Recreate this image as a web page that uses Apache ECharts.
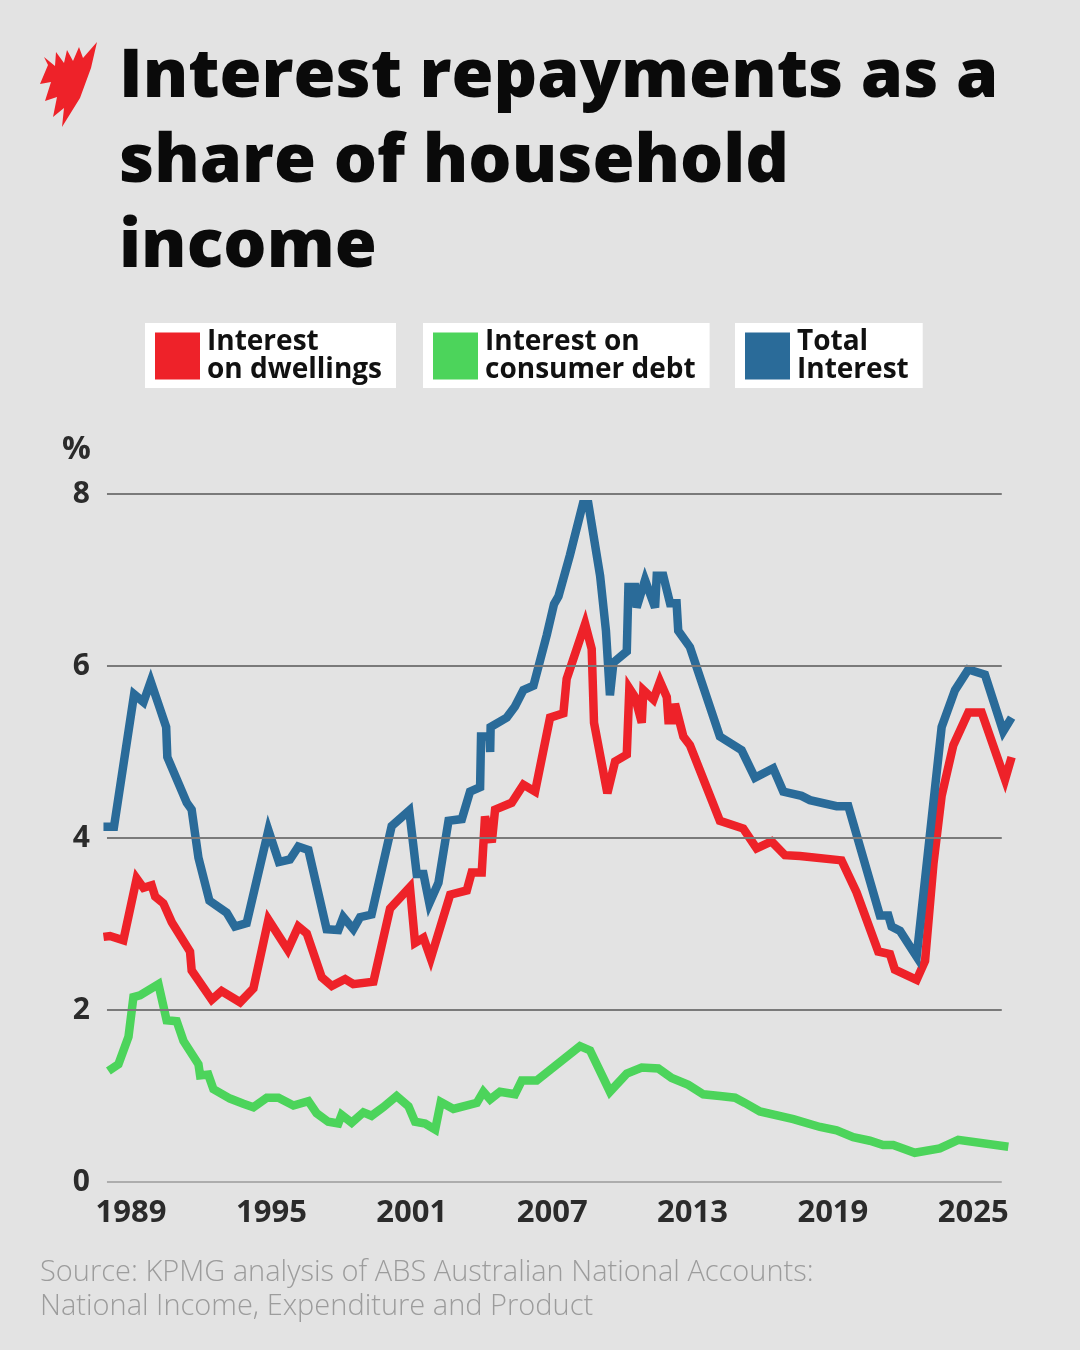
<!DOCTYPE html>
<html>
<head>
<meta charset="utf-8">
<script src="https://cdn.jsdelivr.net/npm/echarts@6/dist/echarts.min.js"></script>
<style>
	html, body { margin: 0; padding: 0; background: #e3e3e3; }
	#chart { width: 1080px; height: 1350px; }
</style>
</head>
<body>
<div id="chart"></div>
<script>
// [year, % of household income]
let dwellings = [
	[1987.82, 2.85], [1988.10, 2.86], [1988.67, 2.81], [1989.24, 3.53], [1989.53, 3.42], [1989.88, 3.45],
	[1990.03, 3.32], [1990.38, 3.24], [1990.74, 3.02], [1991.52, 2.68], [1991.59, 2.46], [1992.45, 2.12],
	[1992.87, 2.22], [1993.66, 2.09], [1994.23, 2.25], [1994.87, 3.05], [1995.70, 2.70], [1996.15, 2.97],
	[1996.51, 2.89], [1997.15, 2.38], [1997.58, 2.28], [1998.15, 2.36], [1998.50, 2.30], [1999.36, 2.33],
	[2000.07, 3.18], [2000.92, 3.43], [2001.14, 2.78], [2001.50, 2.84], [2001.81, 2.60], [2002.64, 3.34],
	[2003.35, 3.39], [2003.56, 3.60], [2003.99, 3.60], [2004.13, 4.25], [2004.42, 3.95], [2004.56, 4.33],
	[2005.27, 4.41], [2005.77, 4.62], [2006.27, 4.54], [2006.91, 5.40], [2007.48, 5.45], [2007.62, 5.85],
	[2008.41, 6.49], [2008.69, 6.20], [2008.79, 5.34], [2009.36, 4.52], [2009.69, 4.89], [2010.19, 4.97],
	[2010.30, 5.74], [2010.54, 5.64], [2010.83, 5.34], [2010.90, 5.72], [2011.33, 5.61], [2011.61, 5.82],
	[2011.90, 5.64], [2011.97, 5.37], [2012.18, 5.37], [2012.25, 5.56], [2012.61, 5.18], [2012.89, 5.08],
	[2014.17, 4.20], [2015.17, 4.11], [2015.74, 3.88], [2016.38, 3.96], [2016.95, 3.80], [2017.59, 3.79],
	[2019.37, 3.74], [2020.01, 3.37], [2020.94, 2.68], [2021.44, 2.65], [2021.65, 2.47], [2022.58, 2.35],
	[2022.94, 2.57], [2023.30, 3.70], [2023.65, 4.49], [2024.15, 5.08], [2024.79, 5.46], [2025.36, 5.46],
	[2026.36, 4.68], [2026.64, 4.94]
]
let consumer = [
	[1988.03, 1.29], [1988.46, 1.37], [1988.89, 1.69], [1989.10, 2.15], [1989.38, 2.17], [1990.17, 2.30],
	[1990.52, 1.88], [1990.95, 1.87], [1991.24, 1.64], [1991.88, 1.37], [1991.95, 1.24], [1992.30, 1.25],
	[1992.52, 1.08], [1993.23, 0.97], [1993.80, 0.91], [1994.23, 0.87], [1994.80, 0.98], [1995.30, 0.98],
	[1995.94, 0.89], [1996.58, 0.94], [1996.93, 0.80], [1997.43, 0.70], [1997.86, 0.68], [1998.00, 0.78],
	[1998.43, 0.69], [1998.93, 0.81], [1999.28, 0.77], [1999.78, 0.87], [2000.35, 1.00], [2000.86, 0.88],
	[2001.14, 0.70], [2001.57, 0.68], [2002.00, 0.61], [2002.24, 0.93], [2002.78, 0.85], [2003.78, 0.92],
	[2004.06, 1.05], [2004.35, 0.96], [2004.77, 1.05], [2005.41, 1.02], [2005.70, 1.18], [2006.34, 1.18],
	[2008.19, 1.58], [2008.62, 1.53], [2009.47, 1.05], [2010.19, 1.26], [2010.83, 1.33], [2011.54, 1.32],
	[2012.11, 1.21], [2012.82, 1.13], [2013.46, 1.02], [2014.17, 1.00], [2014.82, 0.98], [2015.24, 0.92],
	[2015.88, 0.82], [2017.31, 0.73], [2018.45, 0.64], [2019.16, 0.60], [2019.87, 0.52], [2020.58, 0.48],
	[2021.15, 0.43], [2021.58, 0.43], [2022.50, 0.34], [2023.57, 0.39], [2024.36, 0.49], [2026.50, 0.41]
]
let total = [
	[1987.82, 4.13], [1988.27, 4.13], [1989.13, 5.67], [1989.53, 5.58], [1989.84, 5.82], [1990.24, 5.50],
	[1990.50, 5.29], [1990.55, 4.94], [1991.38, 4.41], [1991.59, 4.33], [1991.88, 3.77], [1992.35, 3.27],
	[1993.09, 3.13], [1993.44, 2.97], [1993.94, 3.01], [1994.87, 4.09], [1995.32, 3.72], [1995.79, 3.75],
	[1996.15, 3.90], [1996.58, 3.86], [1997.36, 2.94], [1997.86, 2.93], [1998.07, 3.08], [1998.50, 2.94],
	[1998.79, 3.08], [1999.28, 3.11], [2000.14, 4.14], [2000.89, 4.32], [2001.21, 3.58], [2001.50, 3.58],
	[2001.75, 3.24], [2002.14, 3.48], [2002.57, 4.20], [2003.14, 4.22], [2003.49, 4.54], [2003.92, 4.59],
	[2003.96, 5.18], [2004.32, 5.18], [2004.35, 5.00], [2004.37, 5.29], [2005.06, 5.40], [2005.41, 5.53],
	[2005.77, 5.72], [2006.20, 5.77], [2006.77, 6.36], [2007.08, 6.72], [2007.27, 6.81], [2007.76, 7.29],
	[2008.31, 7.88], [2008.55, 7.88], [2009.05, 7.05], [2009.30, 6.41], [2009.47, 5.66], [2009.62, 6.04],
	[2010.19, 6.17], [2010.26, 6.92], [2010.54, 6.92], [2010.61, 6.68], [2010.97, 7.00], [2011.40, 6.68],
	[2011.47, 7.05], [2011.75, 7.05], [2012.04, 6.73], [2012.32, 6.73], [2012.39, 6.41], [2012.89, 6.22],
	[2014.17, 5.18], [2015.10, 5.02], [2015.67, 4.70], [2016.45, 4.81], [2016.88, 4.54], [2017.66, 4.49],
	[2018.02, 4.44], [2019.16, 4.37], [2019.66, 4.37], [2021.01, 3.10], [2021.37, 3.10], [2021.51, 2.97],
	[2021.87, 2.92], [2022.58, 2.62], [2023.65, 5.29], [2024.22, 5.72], [2024.79, 5.96], [2025.50, 5.90],
	[2026.28, 5.24], [2026.64, 5.40]
]
let yearTicks = [1989, 1995, 2001, 2007, 2013, 2019, 2025]
let yTicks = [0, 2, 4, 6, 8]
// gridlines run a little shorter than the lines do
let gridStart = 1987.97
let gridEnd = 2026.22

let names = {
	dwellings: 'Interest on dwellings',
	consumer: 'Interest on consumer debt',
	total: 'Total Interest'
}
let legendText = {
	'Interest on dwellings': 'Interest\non dwellings',
	'Interest on consumer debt': 'Interest on\nconsumer debt',
	'Total Interest': 'Total\nInterest'
}
let colors = { dwellings: '#ee2229', consumer: '#4cd45b', total: '#2a6b99' }

let lineSeries = (key, data) => ({
	name: names[key],
	type: 'line',
	data: data,
	showSymbol: false,
	z: 3,
	color: colors[key],
	itemStyle: { color: colors[key] },
	lineStyle: { width: 8.5, color: colors[key], join: 'miter', miterLimit: 4 },
	animation: false
})

// horizontal gridlines as markLines so they can stop short of the data
let gridLines = {
	type: 'line',
	data: [],
	z: 1,
	silent: true,
	animation: false,
	markLine: {
		symbol: 'none',
		silent: true,
		label: { show: false },
		animation: false,
		data: yTicks.map(v => [
			{ coord: [gridStart, v], lineStyle: { color: v === 0 ? '#adadad' : '#7a7a7a', width: 2, type: 'solid' } },
			{ coord: [gridEnd, v] }
		])
	}
}

let legendBox = (name, left) => ({
	data: [{ name: name, icon: 'rect' }],
	left: left,
	top: 323,
	orient: 'horizontal',
	backgroundColor: '#ffffff',
	padding: [5, 14, 4, 10],
	itemWidth: 45,
	itemHeight: 47,
	itemGap: 0,
	selectedMode: false,
	formatter: n => legendText[n],
	textStyle: {
		fontFamily: 'Open Sans',
		fontWeight: 700,
		fontSize: 28,
		lineHeight: 28,
		color: '#111',
		padding: [0, 0, 0, 2]
	}
})

let chart = echarts.init(document.getElementById('chart'))

chart.setOption({
	backgroundColor: '#e3e3e3',
	title: {
		text: 'Interest repayments as a\nshare of household\nincome',
		left: 114,
		top: 30,
		textStyle: {
			fontFamily: 'Open Sans',
			fontWeight: 800,
			fontSize: 68,
			lineHeight: 85,
			color: '#0a0a0a'
		}
	},
	legend: [
		legendBox(names.dwellings, 145),
		legendBox(names.consumer, 423),
		legendBox(names.total, 735)
	],
	grid: { left: 103, right: 67, top: 494, bottom: 168 },
	xAxis: {
		type: 'value',
		min: 1987.8,
		max: 2026.7,
		axisLine: { show: false },
		axisTick: { show: false },
		splitLine: { show: false },
		axisLabel: {
			customValues: yearTicks,
			formatter: v => String(v),
			margin: 16,
			fontFamily: 'Open Sans',
			fontWeight: 700,
			fontSize: 31,
			color: '#2b2b2b'
		}
	},
	yAxis: {
		type: 'value',
		min: 0,
		max: 8,
		interval: 2,
		axisLine: { show: false },
		axisTick: { show: false },
		splitLine: { show: false },
		axisLabel: {
			margin: 13,
			fontFamily: 'Open Sans',
			fontWeight: 700,
			fontSize: 30,
			color: '#2b2b2b'
		}
	},
	graphic: [
		{
			type: 'text',
			left: 62,
			top: 434,
			style: { text: '%', fontFamily: 'Open Sans', fontWeight: 700, fontSize: 32, fill: '#2b2b2b' }
		},
		{
			type: 'text',
			left: 40,
			top: 1256,
			style: {
				text: 'Source: KPMG analysis of ABS Australian National Accounts:\nNational Income, Expenditure and Product',
				fontFamily: 'Open Sans',
				fontWeight: 300,
				fontSize: 29,
				lineHeight: 34,
				fill: '#9c9c9c'
			}
		},
		{
			// SBS logo, rough
			type: 'polygon',
			shape: {
				points: [[97, 42], [91, 68], [80, 98], [62, 127], [64, 108], [53, 117], [57, 97], [45, 101],
					[51, 82], [40, 84], [48, 65], [44, 57], [55, 66], [56, 52], [64, 63], [67, 50], [73, 61], [79, 47], [83, 58]]
			},
			style: { fill: '#ee2229' }
		}
	],
	series: [
		gridLines,
		lineSeries('consumer', consumer),
		lineSeries('dwellings', dwellings),
		lineSeries('total', total)
	]
})
</script>
</body>
</html>
